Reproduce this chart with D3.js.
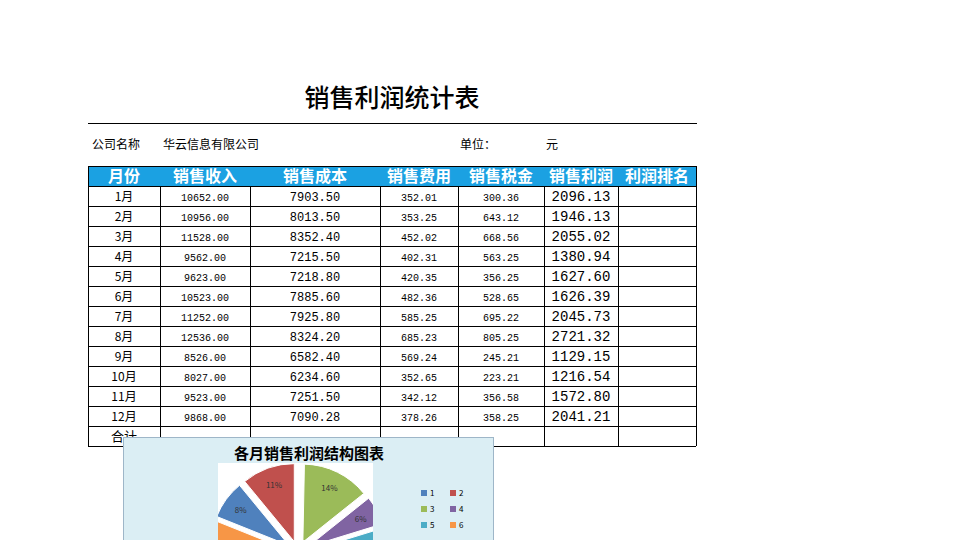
<!DOCTYPE html><html><head><meta charset="utf-8">
<script src="https://cdn.jsdelivr.net/npm/d3@7"></script>
<style>body{margin:0;background:#fff;font-family:"Noto Sans CJK SC",sans-serif}</style></head><body>
<svg id="c" width="960" height="540"></svg>
<script>
const headers=["月份","销售收入","销售成本","销售费用","销售税金","销售利润","利润排名"];
const months=["1月","2月","3月","4月","5月","6月","7月","8月","9月","10月","11月","12月"];
const revenue=["10652.00","10956.00","11528.00","9562.00","9623.00","10523.00","11252.00","12536.00","8526.00","8027.00","9523.00","9868.00"];
const cost=["7903.50","8013.50","8352.40","7215.50","7218.80","7885.60","7925.80","8324.20","6582.40","6234.60","7251.50","7090.28"];
const expense=["352.01","353.25","452.02","402.31","420.35","482.36","585.25","685.23","569.24","352.65","342.12","378.26"];
const tax=["300.36","643.12","668.56","563.25","356.25","528.65","695.22","805.25","245.21","223.21","356.58","358.25"];
const profit=["2096.13","1946.13","2055.02","1380.94","1627.60","1626.39","2045.73","2721.32","1129.15","1216.54","1572.80","2041.21"];
const pieLabels=["3","4","5","7","8","9","10","11","12","6","1","2"];
const pieValues=[14,6,6,9,10,8,7,8,8,5,8,11];
const pieColors={"1":"#4f81bd","2":"#c0504d","3":"#9bbb59","4":"#8064a2","5":"#4bacc6","6":"#f79646","7":"#7f9fcf","8":"#d47b79","9":"#b5cd85","10":"#a18fbd","11":"#7cc4d8","12":"#f9b47c"};
const legendItems=["1","2","3","4","5","6"];

const svg=d3.select("#c");
svg.append("text").attr("x",392).attr("y",107).attr("text-anchor","middle").attr("font-size",25).attr("font-weight",500).text("销售利润统计表");
svg.append("line").attr("x1",88).attr("x2",697).attr("y1",123.5).attr("y2",123.5).attr("stroke","#000");
const info=[[92,"公司名称"],[163,"华云信息有限公司"],[460,"单位："],[546,"元"]];
info.forEach(([x,t])=>svg.append("text").attr("x",x).attr("y",149).attr("font-size",12).text(t));

const colEdges=[88,160,250,380,458,544,618,696];
const x=d3.scaleOrdinal().domain(headers).range(colEdges.slice(0,7));
const w=i=>colEdges[i+1]-colEdges[i];
const rowsY=d3.scaleBand().domain(d3.range(14)).range([166,446]);
const rh=rowsY.bandwidth();
svg.append("rect").attr("x",88).attr("y",166).attr("width",608).attr("height",rh).attr("fill","#1ba1e2");
headers.forEach((h,i)=>svg.append("text").attr("x",x(h)+w(i)/2).attr("y",rowsY(0)+rh/2+6).attr("text-anchor","middle").attr("font-size",16).attr("fill","#fff").attr("font-weight","bold").text(h));
const cols=[months,revenue,cost,expense,tax,profit];
const sizes=[12,10,12,10,10,14];
months.forEach((m,r)=>{
  cols.forEach((arr,c)=>svg.append("text").attr("x",x(headers[c])+w(c)/2).attr("y",rowsY(r+1)+rh/2+5).attr("text-anchor","middle")
    .attr("font-family",c==0?"Noto Sans CJK SC":"Liberation Mono, monospace").attr("font-size",sizes[c]).text(arr[r]));
});
svg.append("text").attr("x",124).attr("y",rowsY(13)+15).attr("text-anchor","middle").attr("font-size",13).text("合计");
const g=svg.append("g").attr("stroke","#000").attr("stroke-width",1);
d3.range(1,15).forEach(i=>g.append("line").attr("x1",88).attr("x2",696).attr("y1",Math.round(rowsY(0)+i*rh)+.5).attr("y2",Math.round(rowsY(0)+i*rh)+.5));
g.append("line").attr("x1",88).attr("x2",696).attr("y1",166.5).attr("y2",166.5);
colEdges.forEach((cx,i)=>g.append("line").attr("x1",cx+.5).attr("x2",cx+.5).attr("y1",i==0||i==7?166:186).attr("y2",446));

const cb=svg.append("g");
cb.append("rect").attr("x",123.5).attr("y",437.5).attr("width",370).attr("height",110).attr("fill","#dbeef4").attr("stroke","#9eb6c8");
cb.append("text").attr("x",309).attr("y",459).attr("text-anchor","middle").attr("font-size",15).attr("font-weight","bold").text("各月销售利润结构图表");
cb.append("rect").attr("x",218).attr("y",463).attr("width",155).attr("height",80).attr("fill","#fff");
svg.append("clipPath").attr("id","pc").append("rect").attr("x",218).attr("y",463).attr("width",155).attr("height",80);
const pg=cb.append("g").attr("clip-path","url(#pc)").append("g").attr("transform","translate(298,552)");
const pie=d3.pie().sort(null).startAngle(0.02).value(d=>d)(pieValues);
const arc=d3.arc().innerRadius(0).outerRadius(78);
pie.forEach((p,i)=>{
  const [cx,cy]=d3.arc().innerRadius(0).outerRadius(22).centroid(p);
  const gg=pg.append("g").attr("transform",`translate(${cx},${cy})`);
  gg.append("path").attr("d",arc(p)).attr("fill",pieColors[pieLabels[i]]).attr("stroke","#fff");
  const [lx,ly]=d3.arc().innerRadius(60).outerRadius(60).centroid(p);
  if(ly+552+cy<534) gg.append("text").attr("x",lx).attr("y",ly+3).attr("text-anchor","middle").attr("font-size",8).attr("fill","#333").text(pieValues[i]+"%");
});
legendItems.forEach((l,i)=>{
  const lx=421+(i%2)*29, ly=490+Math.floor(i/2)*16;
  cb.append("rect").attr("x",lx).attr("y",ly).attr("width",6).attr("height",6).attr("fill",pieColors[l]);
  cb.append("text").attr("x",lx+9).attr("y",ly+6).attr("font-size",8).text(l);
});
</script></body></html>
